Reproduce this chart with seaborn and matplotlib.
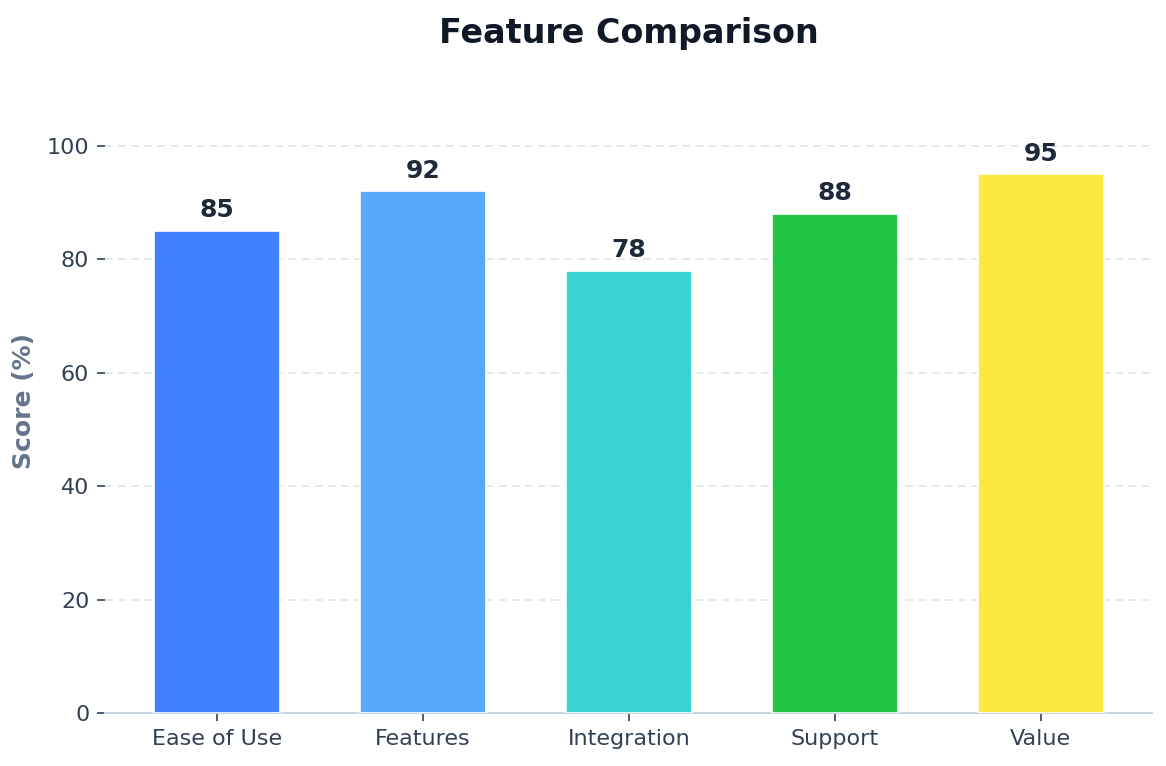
import matplotlib
matplotlib.use("Agg")
import matplotlib.pyplot as plt
import seaborn as sns
import pandas as pd

categories = ["Ease of Use", "Features", "Integration", "Support", "Value"]
scores = [85, 92, 78, 88, 95]
colors = ["#4080FF", "#58A8FB", "#39D4D1", "#22C545", "#FCE840"]

sns.set_theme(style="white")
plt.rcParams['font.family'] = ['DejaVu Sans']

df = pd.DataFrame({"Feature": categories, "Score": scores})

fig = plt.figure(figsize=(1166/150, 766/150), dpi=150)
ax = fig.add_axes([105/1166, 1-713/766, (1152-105)/1166, (713-89)/766])

sns.barplot(data=df, x="Feature", y="Score", hue="Feature", palette=colors,
            width=0.61, edgecolor="white", linewidth=0.8, legend=False, ax=ax,
            saturation=1, zorder=3)

ax.set_xlim(-0.545, 4.54)
ax.set_ylim(0, 110)
ax.set_yticks([0, 20, 40, 60, 80, 100])

ax.yaxis.grid(True, linestyle=(0, (4, 3)), color="#e2e8f0", linewidth=0.9, zorder=0)
ax.xaxis.grid(False)
ax.set_axisbelow(True)

for s in ["top", "right", "left"]:
    ax.spines[s].set_visible(False)
ax.spines["bottom"].set_color("#cbd5e1")
ax.spines["bottom"].set_linewidth(1.0)

ax.tick_params(axis="both", which="both", length=4, width=0.9, color="#475569",
               labelcolor="#334155", labelsize=10.7, direction="out",
               left=True, bottom=True)

ax.set_xlabel("")
ax.set_ylabel("Score (%)", fontsize=12, fontweight="bold", color="#64748b", labelpad=5)
ax.set_title("Feature Comparison", fontsize=16, fontweight="bold", color="#111827", pad=22)

for i, v in enumerate(scores):
    ax.text(i, v + 1.5, f"{v}", ha="center", va="bottom", fontsize=12,
            fontweight="bold", color="#1e293b")

fig.savefig("out.png", dpi=150)
